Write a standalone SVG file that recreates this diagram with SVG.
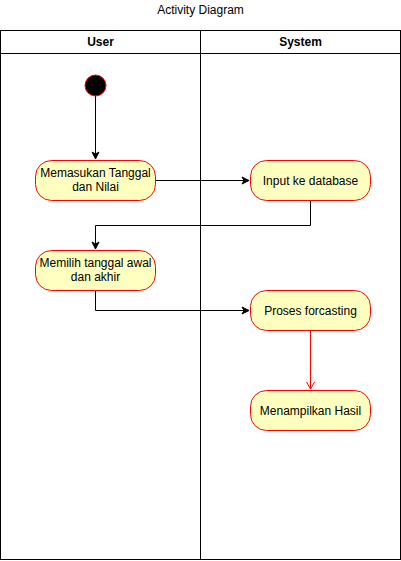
<svg xmlns="http://www.w3.org/2000/svg" width="401" height="561" viewBox="0 0 401 561">
<style>
.lane{fill:none;stroke:#000;stroke-width:1}
.hdr{font-family:"Liberation Sans",Arial,sans-serif;font-size:12px;font-weight:bold;fill:#000;text-anchor:middle}
.title{font-family:"Liberation Sans",Arial,sans-serif;font-size:12px;fill:#000;text-anchor:middle}
.act{fill:#ffffc0;stroke:#ff0000;stroke-width:1}
.lbl{font-family:"Liberation Sans",Arial,sans-serif;font-size:12px;fill:#000;text-anchor:middle}
.edge{fill:none;stroke:#000;stroke-width:1}
.redge{fill:none;stroke:#ff0000;stroke-width:1}
</style>
<defs>
<marker id="arr" markerWidth="10" markerHeight="10" refX="8" refY="5" orient="auto" markerUnits="userSpaceOnUse">
<path d="M1,1.5 L8,5 L1,8.5 L3,5 Z" fill="#000" stroke="#000" stroke-width="1"/>
</marker>
<marker id="open" markerWidth="12" markerHeight="12" refX="6" refY="11" orient="0" markerUnits="userSpaceOnUse">
<path d="M2,4 L6,11 L10,4" fill="none" stroke="#ff0000" stroke-width="1"/>
</marker>
</defs>
<rect width="401" height="561" fill="#fff"/>
<text class="title" x="200.5" y="14">Activity Diagram</text>
<g id="pool">
<rect class="lane" x="0.5" y="30.5" width="400" height="529"/>
<line class="lane" x1="0.5" y1="53.5" x2="400.5" y2="53.5"/>
<line class="lane" x1="200.5" y1="30.5" x2="200.5" y2="559.5"/>
<text class="hdr" x="100.5" y="46">User</text>
<text class="hdr" x="300.5" y="46">System</text>
</g>
<g id="connectors">
<path class="edge" d="M95.5,96 L95.5,159" marker-end="url(#arr)"/>
<path class="edge" d="M155,180.5 L249,180.5" marker-end="url(#arr)"/>
<path class="edge" d="M310.5,200 L310.5,225.5 L95.5,225.5 L95.5,249" marker-end="url(#arr)"/>
<path class="edge" d="M95.5,290 L95.5,310.5 L249,310.5" marker-end="url(#arr)"/>
<path class="redge" d="M310.5,330 L310.5,389" marker-end="url(#open)"/>
</g>
<g id="start">
<circle cx="95.5" cy="85.5" r="10.5" fill="#000" stroke="#ff0000" stroke-width="1"/>
</g>
<g id="memasukan">
<rect class="act" x="35.5" y="160.5" width="120" height="40" rx="16" ry="16"/>
<text class="lbl" x="95.5" y="177">Memasukan Tanggal</text>
<text class="lbl" x="95.5" y="191">dan Nilai</text>
</g>
<g id="input">
<rect class="act" x="250.5" y="160.5" width="120" height="40" rx="16" ry="16"/>
<text class="lbl" x="310.5" y="184.5">Input ke database</text>
</g>
<g id="memilih">
<rect class="act" x="35.5" y="250.5" width="120" height="40" rx="16" ry="16"/>
<text class="lbl" x="95.5" y="267">Memilih tanggal awal</text>
<text class="lbl" x="95.5" y="281">dan akhir</text>
</g>
<g id="proses">
<rect class="act" x="250.5" y="290.5" width="120" height="40" rx="16" ry="16"/>
<text class="lbl" x="310.5" y="314.5">Proses forcasting</text>
</g>
<g id="menampilkan">
<rect class="act" x="250.5" y="390.5" width="120" height="40" rx="16" ry="16"/>
<text class="lbl" x="310.5" y="414.5">Menampilkan Hasil</text>
</g>
</svg>
